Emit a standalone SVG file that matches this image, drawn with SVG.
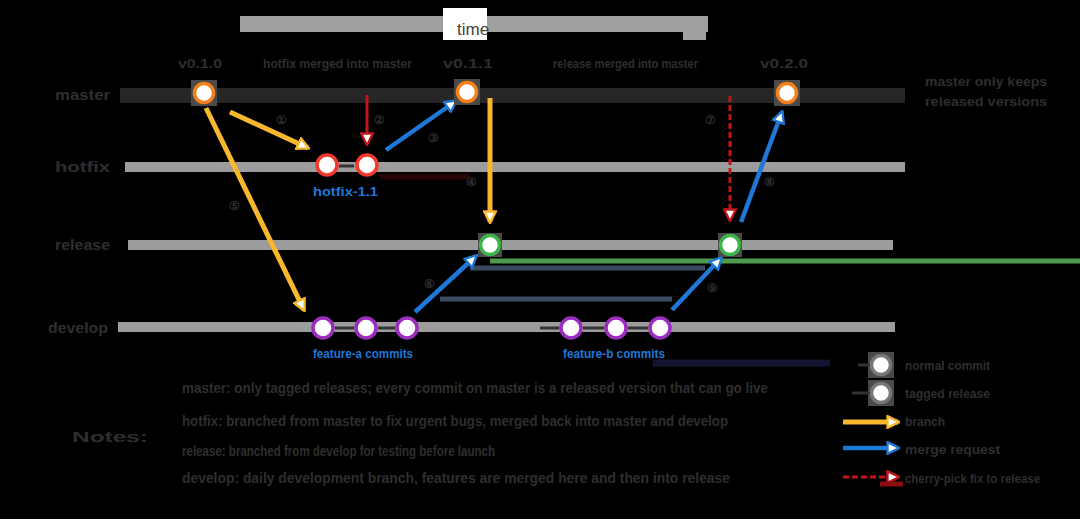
<svg xmlns="http://www.w3.org/2000/svg" width="1080" height="519" viewBox="0 0 1080 519">
<defs>
<style>
.t{font-family:"Liberation Sans","Noto Sans",Arial,sans-serif;fill:#2e2e2e;font-weight:bold}
.lab{font-size:15px}
.tag{font-size:13px}
.sm{font-size:12px}
.note{font-size:14px}
.blue{font-family:"Liberation Sans","Noto Sans",Arial,sans-serif;fill:#1f78d8;font-size:13px;font-weight:bold}
.lane{stroke:#9c9c9c;stroke-width:10;fill:none}
.halo{fill:#4a4a4a}
.c{fill:#fff;stroke-width:3.5}
.yl{stroke:#f8b82b;stroke-width:5;fill:none}
.bl{stroke:#1f78d8;stroke-width:4.5;fill:none}
.rd{stroke:#c3141c;stroke-width:3;fill:none}
</style>
<marker id="ay" viewBox="0 0 12 12" refX="10" refY="6" markerWidth="14" markerHeight="14" markerUnits="userSpaceOnUse" orient="auto"><path d="M1,1 L11,6 L1,11 Z" fill="#fff" stroke="#f8b82b" stroke-width="2"/></marker>
<marker id="ab" viewBox="0 0 12 12" refX="10" refY="6" markerWidth="14" markerHeight="14" markerUnits="userSpaceOnUse" orient="auto"><path d="M1,1 L11,6 L1,11 Z" fill="#fff" stroke="#1f78d8" stroke-width="2"/></marker>
<marker id="ar" viewBox="0 0 12 12" refX="10" refY="6" markerWidth="14" markerHeight="14" markerUnits="userSpaceOnUse" orient="auto"><path d="M1,1 L11,6 L1,11 Z" fill="#fff" stroke="#c3141c" stroke-width="2"/></marker>
</defs>
<rect x="0" y="0" width="1080" height="519" fill="#000"/>

<g id="timeline">
<rect x="240" y="16" width="468" height="16" fill="#a0a0a0"/>
<rect x="683" y="30" width="23" height="10" fill="#a0a0a0"/>
<rect x="443" y="8" width="44" height="32" fill="#fff"/>
<text x="457" y="35" font-family="Liberation Sans,Arial,sans-serif" font-size="17" fill="#444">time</text>
</g>

<g id="lanes">
<rect x="120" y="88" width="785" height="15" fill="#262626"/>
<line class="lane" x1="125" y1="167" x2="905" y2="167"/>
<line class="lane" x1="128" y1="245" x2="893" y2="245"/>
<line class="lane" x1="118" y1="327" x2="895" y2="327"/>
<text class="t lab" x="55" y="100" textLength="55" lengthAdjust="spacingAndGlyphs">master</text>
<text class="t lab" x="55" y="172" textLength="55" lengthAdjust="spacingAndGlyphs">hotfix</text>
<text class="t lab" x="55" y="250" textLength="55" lengthAdjust="spacingAndGlyphs">release</text>
<text class="t lab" x="48" y="333" textLength="60" lengthAdjust="spacingAndGlyphs">develop</text>
</g>

<g id="artifacts">
<line x1="490" y1="261" x2="1080" y2="261" stroke="#4f9a4f" stroke-width="5"/>
<line x1="470" y1="268" x2="705" y2="268" stroke="#3a4d60" stroke-width="5"/>
<line x1="440" y1="299" x2="672" y2="299" stroke="#3a4d60" stroke-width="5"/>
<line x1="653" y1="363" x2="830" y2="363" stroke="#141432" stroke-width="7"/>
<line x1="380" y1="177" x2="470" y2="177" stroke="#2a0505" stroke-width="5"/>
</g>

<g id="tags">
<text class="t tag" x="178" y="68" textLength="44" lengthAdjust="spacingAndGlyphs">v0.1.0</text>
<text class="t tag" x="263" y="68" textLength="149" lengthAdjust="spacingAndGlyphs">hotfix merged into master</text>
<text class="t tag" x="443" y="68" textLength="50" lengthAdjust="spacingAndGlyphs">v0.1.1</text>
<text class="t tag" x="553" y="68" textLength="145" lengthAdjust="spacingAndGlyphs">release merged into master</text>
<text class="t tag" x="760" y="68" textLength="48" lengthAdjust="spacingAndGlyphs">v0.2.0</text>
<text class="t tag" x="925" y="86" textLength="122" lengthAdjust="spacingAndGlyphs">master only keeps</text>
<text class="t tag" x="925" y="106" textLength="122" lengthAdjust="spacingAndGlyphs">released versions</text>
</g>

<g id="connectors">
<line class="yl" x1="206" y1="108" x2="304" y2="310" marker-end="url(#ay)"/>
<line class="yl" x1="230" y1="112" x2="308" y2="148" marker-end="url(#ay)"/>
<line class="rd" x1="367" y1="95" x2="367" y2="144" marker-end="url(#ar)"/>
<line class="bl" x1="386" y1="150" x2="456" y2="101" marker-end="url(#ab)"/>
<line class="yl" x1="490" y1="98" x2="490" y2="222" marker-end="url(#ay)"/>
<line class="bl" x1="415" y1="312" x2="476" y2="256" marker-end="url(#ab)"/>
<line class="bl" x1="672" y1="310" x2="721" y2="258" marker-end="url(#ab)"/>
<line class="rd" x1="730" y1="96" x2="730" y2="220" stroke-dasharray="6,3" marker-end="url(#ar)"/>
<line class="bl" x1="741" y1="222" x2="782" y2="112" marker-end="url(#ab)"/>
<line x1="339" y1="166" x2="354" y2="166" stroke="#333" stroke-width="3"/>
<line x1="335" y1="328" x2="354" y2="328" stroke="#333" stroke-width="3"/>
<line x1="378" y1="328" x2="395" y2="328" stroke="#333" stroke-width="3"/>
<line x1="540" y1="328" x2="559" y2="328" stroke="#333" stroke-width="3"/>
<line x1="583" y1="328" x2="604" y2="328" stroke="#333" stroke-width="3"/>
<line x1="628" y1="328" x2="648" y2="328" stroke="#333" stroke-width="3"/>
<text class="t sm" x="276" y="124">①</text>
<text class="t sm" x="374" y="124">②</text>
<text class="t sm" x="428" y="142">③</text>
<text class="t sm" x="466" y="186">④</text>
<text class="t sm" x="229" y="210">⑤</text>
<text class="t sm" x="424" y="288">⑥</text>
<text class="t sm" x="705" y="124">⑦</text>
<text class="t sm" x="764" y="186">⑧</text>
<text class="t sm" x="707" y="292">⑨</text>
</g>

<g id="master-nodes">
<rect class="halo" x="191" y="80" width="26" height="26"/><circle class="c" cx="204" cy="93" r="9.5" stroke="#f6801a"/>
<rect class="halo" x="454" y="79" width="26" height="26"/><circle class="c" cx="467" cy="92" r="9.5" stroke="#f6801a"/>
<rect class="halo" x="774" y="80" width="26" height="26"/><circle class="c" cx="787" cy="93" r="9.5" stroke="#f6801a"/>
</g>
<g id="hotfix-nodes">
<circle class="c" cx="327" cy="165" r="10" stroke="#f2392b"/>
<circle class="c" cx="367" cy="165" r="10" stroke="#f2392b"/>
<text class="blue" x="313" y="196" textLength="65" lengthAdjust="spacingAndGlyphs">hotfix-1.1</text>
</g>
<g id="release-nodes">
<rect class="halo" x="478" y="233" width="24" height="24"/><circle class="c" cx="490" cy="245" r="9.5" stroke="#3db34a"/>
<rect class="halo" x="718" y="233" width="24" height="24"/><circle class="c" cx="730" cy="245" r="9.5" stroke="#3db34a"/>
</g>
<g id="develop-nodes">
<circle class="c" cx="323" cy="328" r="10" stroke="#9a2dbf"/>
<circle class="c" cx="366" cy="328" r="10" stroke="#9a2dbf"/>
<circle class="c" cx="407" cy="328" r="10" stroke="#9a2dbf"/>
<circle class="c" cx="571" cy="328" r="10" stroke="#9a2dbf"/>
<circle class="c" cx="616" cy="328" r="10" stroke="#9a2dbf"/>
<circle class="c" cx="660" cy="328" r="10" stroke="#9a2dbf"/>
<text class="blue" x="313" y="358" textLength="100" lengthAdjust="spacingAndGlyphs">feature-a commits</text>
<text class="blue" x="563" y="358" textLength="102" lengthAdjust="spacingAndGlyphs">feature-b commits</text>
</g>

<g id="notes">
<text class="t note" x="72" y="442" textLength="76" lengthAdjust="spacingAndGlyphs">Notes:</text>
<text class="t note" x="182" y="393" textLength="586" lengthAdjust="spacingAndGlyphs">master: only tagged releases; every commit on master is a released version that can go live</text>
<text class="t note" x="182" y="426" textLength="546" lengthAdjust="spacingAndGlyphs">hotfix: branched from master to fix urgent bugs, merged back into master and develop</text>
<text class="t note" x="182" y="456" textLength="313" lengthAdjust="spacingAndGlyphs">release: branched from develop for testing before launch</text>
<text class="t note" x="182" y="483" textLength="548" lengthAdjust="spacingAndGlyphs">develop: daily development branch, features are merged here and then into release</text>
</g>

<g id="legend">
<rect class="halo" x="868" y="352" width="26" height="26"/><circle class="c" cx="881" cy="365" r="9.5" stroke="#777"/>
<line x1="858" y1="365" x2="870" y2="365" stroke="#333" stroke-width="3"/>
<rect class="halo" x="868" y="380" width="26" height="26"/><circle class="c" cx="881" cy="393" r="9.5" stroke="#777"/>
<line x1="852" y1="393" x2="870" y2="393" stroke="#333" stroke-width="3"/>
<line class="yl" x1="843" y1="422" x2="898" y2="422" marker-end="url(#ay)"/>
<line class="bl" x1="843" y1="448" x2="898" y2="448" marker-end="url(#ab)"/>
<line class="rd" x1="843" y1="477" x2="898" y2="477" stroke-dasharray="6,3" marker-end="url(#ar)"/>
<line x1="880" y1="484" x2="903" y2="484" stroke="#8a0d12" stroke-width="5"/>
<text class="t sm" x="905" y="370" textLength="85" lengthAdjust="spacingAndGlyphs">normal commit</text>
<text class="t sm" x="905" y="398" textLength="85" lengthAdjust="spacingAndGlyphs">tagged release</text>
<text class="t sm" x="905" y="426" textLength="40" lengthAdjust="spacingAndGlyphs">branch</text>
<text class="t sm" x="905" y="454" textLength="95" lengthAdjust="spacingAndGlyphs">merge request</text>
<text class="t sm" x="905" y="483" textLength="135" lengthAdjust="spacingAndGlyphs">cherry-pick fix to release</text>
</g>
</svg>
